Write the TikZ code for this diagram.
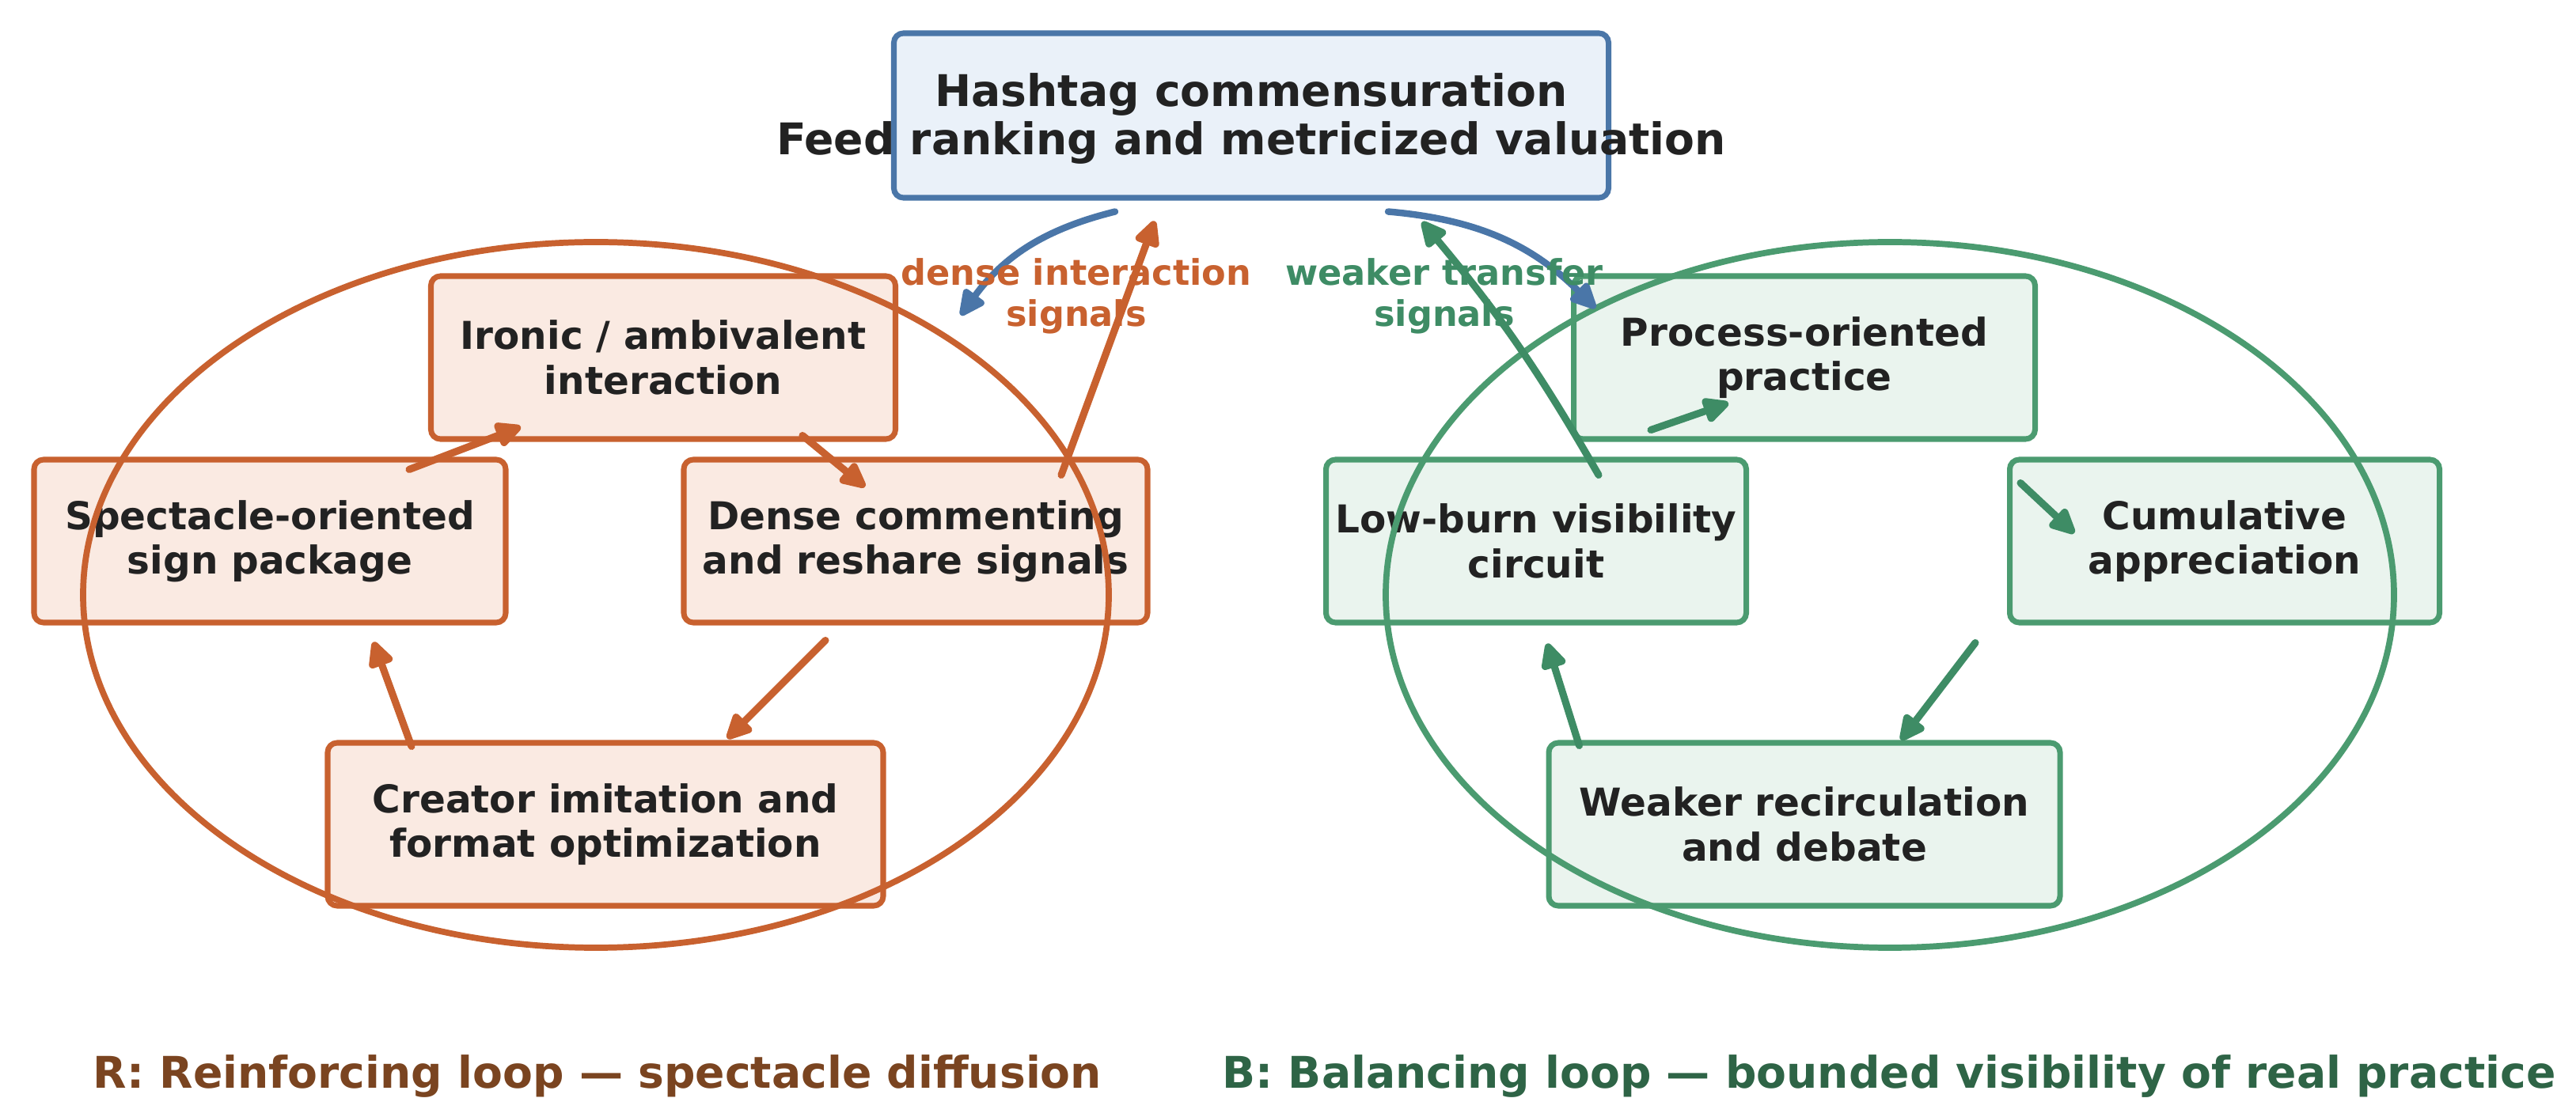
\documentclass[tikz,border=0pt]{standalone}
\usepackage{fontspec}
\setmainfont{DejaVu Sans}
\usetikzlibrary{arrows.meta,calc}
\definecolor{rust}{HTML}{C8612F}
\definecolor{rustfill}{HTML}{FAEAE2}
\definecolor{sage}{HTML}{4B9B70}
\definecolor{sagedark}{HTML}{3E8C65}
\definecolor{sagefill}{HTML}{EAF4EE}
\definecolor{steel}{HTML}{4A76A8}
\definecolor{steelfill}{HTML}{EAF1F9}
\definecolor{ink}{HTML}{222222}
\definecolor{rbrown}{HTML}{7A4420}
\definecolor{bgreen}{HTML}{2E6446}
\tikzset{
  loopbox/.style={line width=2pt, rounded corners=1.2mm, inner sep=0pt, minimum height=2.06cm, align=center, text=ink,
    font=\fontsize{13.8}{16}\selectfont\bfseries},
  rbox/.style={loopbox, draw=rust, fill=rustfill},
  gbox/.style={loopbox, draw=sage, fill=sagefill},
  tip/.style={-{Triangle[length=3.8mm,width=3.4mm,round]}, line cap=round},
  rarrow/.style={tip, draw=rust, line width=2.6pt},
  garrow/.style={tip, draw=sagedark, line width=2.6pt},
  barrow/.style={tip, draw=steel, line width=2.4pt},
  siglabel/.style={align=center, font=\fontsize{12.7}{14.8}\selectfont\bfseries},
  caption/.style={font=\fontsize{15.7}{18}\selectfont\bfseries}
}

\begin{document}
\begin{tikzpicture}
			\useasboundingbox (0,0) rectangle (32.55,14.11);
			%%%%% HUB %%%%%
			\node[draw=steel, fill=steelfill, line width=2pt, rounded corners=1.2mm, minimum width=9.03cm, minimum height=2.08cm,
			  label={[align=center, text=ink, font=\fontsize{15.7}{17.6}\selectfont\bfseries, yshift=-0.04cm]center:Hashtag commensuration\\Feed ranking and metricized valuation}]
			  (hub) at (15.81,12.65) {};
			
			%%%%% R LOOP %%%%%
			\node[rbox, minimum width=5.87cm] (iron) at (8.38,9.59) {Ironic / ambivalent\\interaction};
			\node[rbox, minimum width=5.96cm] (spec) at (3.41,7.27) {Spectacle-oriented\\sign package};
			\node[rbox, minimum width=5.86cm] (dense) at (11.57,7.27) {Dense commenting\\and reshare signals};
			\node[rbox, minimum width=7.02cm] (creat) at (7.65,3.69) {Creator imitation and\\format optimization};
			
			%%%%% B LOOP %%%%%
			\node[gbox, minimum width=5.83cm] (proc) at (22.80,9.59) {Process-oriented\\practice};
			\node[gbox, minimum width=5.31cm] (low) at (19.41,7.27) {Low-burn visibility\\circuit};
			\node[gbox, minimum width=5.43cm] (cumu) at (28.11,7.27) {Cumulative\\appreciation};
			\node[gbox, minimum width=6.46cm] (weak) at (22.80,3.69) {Weaker recirculation\\and debate};
			
			\draw[rust, line width=2.2pt] (7.53,6.59) ellipse [x radius=6.48, y radius=4.46];
			\draw[sage, line width=2.2pt] (23.88,6.59) ellipse [x radius=6.37, y radius=4.46];
			
			% reinforcing arrows
			\draw[rarrow] ([shift={(1.76,-0.16)}]spec.north) -- ([shift={(-1.80,0.19)}]iron.south);
			\draw[rarrow] ([shift={(1.76,0.08)}]iron.south) -- ([shift={(-0.64,-0.38)}]dense.north);
			\draw[rarrow] ([shift={(-1.14,-0.19)}]dense.south) -- ([shift={(1.54,0.02)}]creat.north);
			\draw[rarrow] ([shift={(-2.45,-0.08)}]creat.north) -- ([shift={(1.31,-0.21)}]spec.south);
			
			% balancing arrows
			\draw[garrow] ([shift={(1.45,0.34)}]low.north) -- ([shift={(-0.96,0.49)}]proc.south);
			\draw[garrow] ([shift={(-0.22,-0.52)}]proc.south east) -- ([shift={(0.85,0.10)}]cumu.west);
			\draw[garrow] ([shift={(-0.40,-0.22)}]cumu.south west) -- ([shift={(1.22,0)}]weak.north);
			\draw[garrow] ([shift={(0.42,-0.07)}]weak.north west) -- ([shift={(0.14,-0.23)}]low.south);
			
			% hub links
			\draw[barrow] ([shift={(-1.72,-0.14)}]hub.south) to[bend right=20] ([shift={(-3.67,-1.45)}]hub.south);
			\draw[barrow] ([shift={(1.73,-0.14)}]hub.south) to[bend left=20] ([shift={(0.31,-0.44)}]proc.north west);
			\draw[rarrow] ([shift={(1.84,-0.23)}]dense.north) -- ([shift={(-1.22,-0.26)}]hub.south);
			\draw[garrow] ([shift={(0.79,-0.23)}]low.north) to[bend right=5] ([shift={(2.16,-0.27)}]hub.south);
			
			\node[siglabel, text=rust] (denselab) at (13.60,10.37) {dense interaction\\signals};
			\node[siglabel, text=sagedark] (weaklab) at (18.25,10.37) {weaker transfer\\signals};
			
			\node[caption, text=rbrown] (rcap) at (7.55,0.51) {R: Reinforcing loop — spectacle diffusion};
			\node[caption, text=bgreen] (bcap) at (23.87,0.51) {B: Balancing loop — bounded visibility of real practice};
			%%%%% END %%%%%
\end{tikzpicture}
\end{document}
